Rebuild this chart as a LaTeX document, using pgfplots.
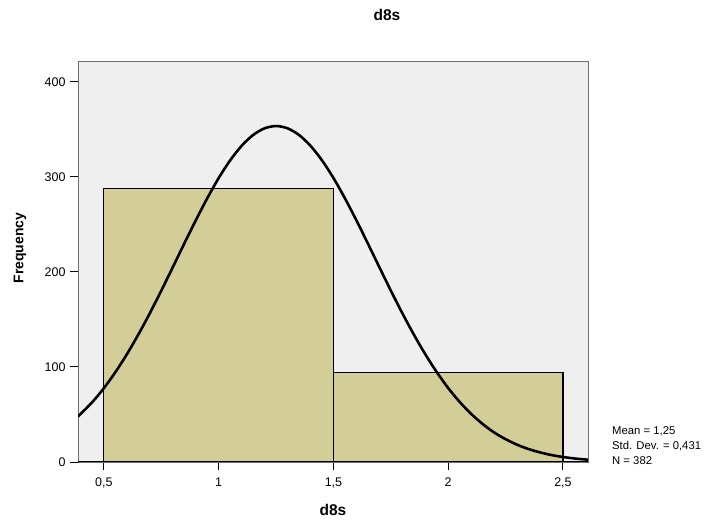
\documentclass[border=0pt]{standalone}
\usepackage{pgfplots}
\pgfplotsset{compat=1.18}
\usepackage{fontspec}
\setmainfont{Liberation Sans}
\definecolor{plotbg}{RGB}{239,239,239}
\definecolor{barfill}{RGB}{211,206,151}
\definecolor{framegray}{RGB}{110,110,110}
\begin{document}
\begin{tikzpicture}[x=1bp,y=1bp]
\useasboundingbox (-78bp,-63bp) rectangle (641bp,462bp);
\begin{axis}[
  scale only axis,
  width=510bp, height=400bp,
  xmin=0.387, xmax=2.609,
  ymin=0, ymax=421,
  axis background/.style={fill=plotbg},
  axis line style={framegray, line width=1pt},
  xtick={0.5,1,1.5,2,2.5},
  xticklabels={{0,5},{1},{1,5},{2},{2,5}},
  ytick={0,100,200,300,400},
  tick align=outside,
  xtick pos=bottom, ytick pos=left,
  major tick length=8bp,
  tick style={black, line width=1pt},
  tick label style={font=\fontsize{12.5bp}{14bp}\selectfont},
  xticklabel style={yshift=-4bp},
  yticklabel style={xshift=-1bp},
  /pgf/number format/assume math mode=true,
  clip=true,
]
\addplot[ybar interval, fill=barfill, draw=black, line width=1.1pt] coordinates {(0.5,288) (1.5,94) (2.5,94)};
\addplot[black, line width=2.6pt, smooth] coordinates {
(0.387,47.9) (0.45,63.2) (0.5,77.8) (0.55,94.6) (0.6,113.4) (0.65,134.2) (0.7,156.6) (0.75,180.4) (0.8,205.0) (0.85,229.9) (0.9,254.3) (0.95,277.5) (1.0,298.9) (1.05,317.5) (1.1,332.8) (1.15,344.2) (1.2,351.2) (1.25,353.6) (1.3,351.2) (1.35,344.2) (1.4,332.8) (1.45,317.5) (1.5,298.9) (1.55,277.5) (1.6,254.3) (1.65,229.9) (1.7,205.0) (1.75,180.4) (1.8,156.6) (1.85,134.2) (1.9,113.4) (1.95,94.6) (2.0,77.8) (2.05,63.2) (2.1,50.6) (2.15,40.0) (2.2,31.1) (2.25,24.0) (2.3,18.2) (2.35,13.6) (2.4,10.1) (2.45,7.3) (2.5,5.3) (2.55,3.7) (2.609,2.4)};
\draw[black, line width=1.5pt] (rel axis cs:0,0) -- (rel axis cs:1,0);
\end{axis}
\node[font=\bfseries\fontsize{15.5bp}{17bp}\selectfont] at (309bp,447bp) {d8s};
\node[font=\bfseries\fontsize{14bp}{16bp}\selectfont, rotate=90] at (-58bp,214bp) {Frequency};
\node[font=\bfseries\fontsize{15.5bp}{17bp}\selectfont] at (255bp,-48bp) {d8s};
\node[anchor=north west, align=left, font=\fontsize{11.3bp}{15bp}\selectfont, inner sep=0pt] at (534bp,36bp) {Mean = 1,25\\Std. Dev. = 0,431\\N = 382};
\end{tikzpicture}
\end{document}
